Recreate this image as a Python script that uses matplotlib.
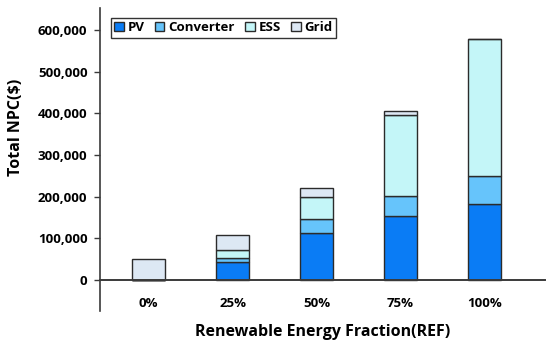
import matplotlib.pyplot as plt
import numpy as np

categories = ["0%", "25%", "50%", "75%", "100%"]
series_names = ["PV", "Converter", "ESS", "Grid"]
pv = [0, 42500, 112000, 153500, 181500]
converter = [0, 11000, 35000, 48000, 69000]
ess = [0, 18500, 53000, 193500, 327000]
grid = [50000, 36000, 21500, 10500, 0]
y_ticks = [0, 100000, 200000, 300000, 400000, 500000, 600000]

colors = ["#0a7cf5", "#66c4fb", "#c4f6f8", "#dde8f4"]
edge_color = "#2b2b2b"


def plot_stacked(ax):
    x = np.arange(len(categories))
    bottom = np.zeros(len(categories))
    for name, values, color in zip(series_names, [pv, converter, ess, grid], colors):
        values = np.array(values, dtype=float)
        ax.bar(x, values, width=0.4, bottom=bottom, color=color,
               edgecolor=edge_color, linewidth=1.0, label=name)
        bottom = bottom + values
    return x


def style_axes(ax, x):
    # move the bottom spine first, it resets the ticks
    ax.spines["top"].set_visible(False)
    ax.spines["right"].set_visible(False)
    ax.spines["bottom"].set_position(("data", 0))
    ax.spines["bottom"].set_color("#3a3a3a")
    ax.spines["bottom"].set_linewidth(1.4)
    ax.spines["left"].set_color("#3a3a3a")
    ax.spines["left"].set_linewidth(1.2)

    ax.set_xlim(-0.58, 4.72)
    ax.set_ylim(-74400, 652800)
    ax.set_xticks(x, categories, fontsize=9.5, fontweight="bold")
    ax.set_yticks(y_ticks, [f"{v:,}" for v in y_ticks], fontsize=9.5, fontweight="bold")
    ax.tick_params(axis="x", length=0, pad=12)
    ax.tick_params(axis="y", length=4, width=1, color="#3a3a3a", pad=5)

    ax.set_xlabel("Renewable Energy Fraction(REF)", fontsize=11.5, fontweight="bold", va="center")
    ax.set_ylabel("Total NPC($)", fontsize=11.5, fontweight="bold", va="center")
    ax.xaxis.set_label_coords(0.5, -0.068)
    ax.yaxis.set_label_coords(-0.188, 0.607)


def add_legend(ax):
    leg = ax.legend(loc="upper left", bbox_to_anchor=(0.025, 0.967), ncol=4,
                    prop={"weight": "bold", "size": 9.5}, frameon=True, fancybox=False,
                    handlelength=0.7, handleheight=0.7, handletextpad=0.3,
                    columnspacing=0.8, borderpad=0.25, borderaxespad=0)
    leg.get_frame().set_edgecolor("black")
    leg.get_frame().set_linewidth(1.0)


def plot_chart():
    plt.rcParams["font.family"] = ["Open Sans", "DejaVu Sans"]
    fig = plt.figure(figsize=(5.5, 3.46), dpi=100)
    ax = fig.add_axes([100 / 550, 1 - 311 / 346, 445 / 550, 303 / 346])
    x = plot_stacked(ax)
    style_axes(ax, x)
    add_legend(ax)
    fig.savefig("out.png", dpi=100)


plot_chart()
